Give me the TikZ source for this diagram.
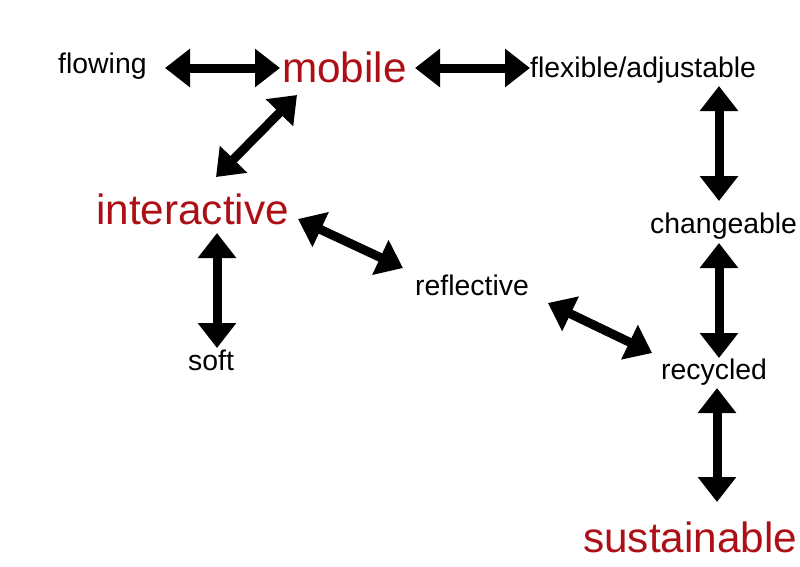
\documentclass[tikz,border=0pt]{standalone}
\usepackage{fontspec}
\setmainfont{Liberation Sans}
\usetikzlibrary{arrows.meta}
\definecolor{wordred}{RGB}{172,16,22}
\begin{document}
\begin{tikzpicture}[x=1pt,y=-1pt,
  word/.style={anchor=base west,inner sep=0pt,font=\fontsize{28.4}{30}\selectfont,text=black},
  keyword/.style={anchor=base west,inner sep=0pt,font=\fontsize{42.3}{44}\selectfont,text=wordred},
  dbl/.style={line width=9pt,{Triangle[width=37pt,length=25pt]}-{Triangle[width=37pt,length=25pt]}}]
\useasboundingbox (0,0) rectangle (800,566);
% words
\node[word] (flowing) at (58,73) {flowing};
\node[keyword] (mobile) at (282,82) {mobile};
\node[word] (flexible) at (530,77) {flexible/adjustable};
\node[keyword] (interactive) at (96,224) {interactive};
\node[word] (changeable) at (650,233) {changeable};
\node[word] (reflective) at (415,295) {reflective};
\node[word] (soft) at (188,370) {soft};
\node[word] (recycled) at (661,379) {recycled};
\node[keyword] (sustainable) at (583,552) {sustainable};
% arrow end points
\coordinate (fm1) at (165,68);  \coordinate (fm2) at (280,68);
\coordinate (mf1) at (415,68);  \coordinate (mf2) at (530,68);
\coordinate (mi1) at (297,95);  \coordinate (mi2) at (216,177);
\coordinate (fc1) at (719,86);  \coordinate (fc2) at (719,201);
\coordinate (cr1) at (719,243); \coordinate (cr2) at (719,358);
\coordinate (rs1) at (717,388); \coordinate (rs2) at (717,502);
\coordinate (ir1) at (298,219); \coordinate (ir2) at (403,268);
\coordinate (rr1) at (548,303); \coordinate (rr2) at (652,353);
\coordinate (is1) at (217,233); \coordinate (is2) at (217,348);
% connectors
\draw[dbl] (fm1) -- (fm2);
\draw[dbl] (mf1) -- (mf2);
\draw[dbl] (mi1) -- (mi2);
\draw[dbl] (fc1) -- (fc2);
\draw[dbl] (cr1) -- (cr2);
\draw[dbl] (rs1) -- (rs2);
\draw[dbl] (ir1) -- (ir2);
\draw[dbl] (rr1) -- (rr2);
\draw[dbl] (is1) -- (is2);
\end{tikzpicture}
\end{document}
